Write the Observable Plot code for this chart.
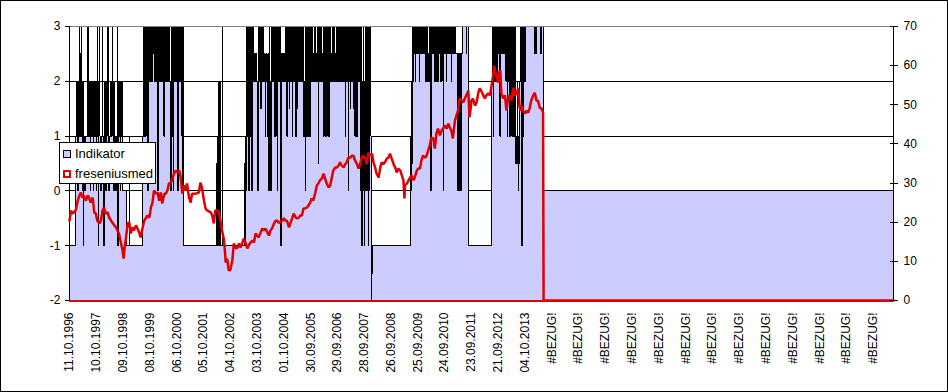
<!DOCTYPE html>
<html><head><meta charset="utf-8">
<script src="https://cdn.jsdelivr.net/npm/d3@7"></script>
<script src="https://cdn.jsdelivr.net/npm/@observablehq/plot@0.6"></script>
<style>
html,body{margin:0;padding:0;background:#fff;}
#wrap{position:relative;width:948px;height:392px;overflow:hidden;}
#wrap svg{display:block;outline:1px solid #000;outline-offset:-1px;}
.legend{position:absolute;left:59px;top:142px;width:95px;height:40px;border:1px solid #000;background:#fff;font:13px "Liberation Sans",Arial,sans-serif;color:#000;}
.legend .sw{position:absolute;left:3px;width:8px;height:8px;box-sizing:border-box;}
.legend .t{position:absolute;left:15px;line-height:15px;white-space:nowrap;}
</style>
</head><body>
<div id="wrap"></div>
<script>
// category labels (one every 52 weekly categories)
const xTickLabels = ["11.10.1996","10.10.1997","09.10.1998","08.10.1999","06.10.2000","05.10.2001","04.10.2002","03.10.2003","01.10.2004","30.09.2005","29.09.2006","28.09.2007","26.09.2008","25.09.2009","24.09.2010","23.09.2011","21.09.2012","04.10.2013","#BEZUG!","#BEZUG!","#BEZUG!","#BEZUG!","#BEZUG!","#BEZUG!","#BEZUG!","#BEZUG!","#BEZUG!","#BEZUG!","#BEZUG!","#BEZUG!","#BEZUG!"];
const categoryCount = 1600;
const leftTicks = [-2,-1,0,1,2,3];
const rightTicks = [0,10,20,30,40,50,60,70];
const seriesNames = ["Indikator","freseniusmed"];

// Indikator (left axis): [category index where value starts, value]
const indikator = [
[0,-1],[12,1],[13,2],[14,1],[15,2],[16,0],[17,2],[18,1],[19,3],[20,1],[21,2.5],[22,1],[23,3],[24,2],[25,0],[26,2],[27,-1],[28,1],[30,0],[32,1],[35,3],[36,1],[37,2],[38,1],[39,2],[40,0],[41,2],[42,1],[43,2],[44,1],[45,2],[46,0],[47,2],[48,1],[49,2],[50,1],[51,2],[52,0],[53,1],[54,3],[55,1],[56,-1],[57,2],[58,3],[59,1],[60,0],[62,1],[64,3],[65,1],[66,-1],[67,2],[68,1],[69,2],[70,0],[71,2],[72,1],[73,2],[74,3],[75,1],[76,0],[78,1],[80,2],[81,1],[82,2],[83,3],[84,1],[85,2],[86,0],[87,2],[88,1],[89,0],[91,1],[93,3],[94,-1],[95,2],[96,1],[97,2],[98,0],[99,2],[100,1],[101,2],[102,0],[110,-1],[116,1],[117,-1],
[142,1],[143,3],[144,1],[145,3],[146,2],[147,1],[148,3],[149,2],[150,1],[151,3],[152,0],[153,2],[154,3],[156,2],[157,3],[158,2],[159,3],[160,2],[161,3],[162,2.5],[163,3],[164,2],[165,3],[166,2],[168,3],[169,2],[170,3],[171,0],[172,3],[173,2],[174,3],[175,2.5],[176,3],[177,2],[178,3],[180,2],[181,3],[182,2],[183,1],[184,3],[185,2],[186,3],[187,2],[188,3],[189,2.5],[190,3],[191,2],[192,3],[193,2],[194,3],[195,2],[196,0],[197,1],[198,3],[199,1],[200,2],[201,0],[202,3],[203,2],[204,3],[205,2],[206,3],[207,2],[208,3],[209,2],[210,0],[211,2],[212,3],[213,2],[214,3],[215,2],[216,3],[217,2],[218,1],[219,0],[220,3],[221,-1],
[285,0.5],[286,-1],[288,1],[289,-1],[290,2],[291,-1],[292,2],[293,-1],[296,3],[297,-1],[340,0.5],[341,-1],
[342,1],[343,0],[344,3],[345,1],[346,2],[347,3],[348,0],[349,2],[350,3],[351,1],[352,3],[353,1.5],[354,0],[355,3],[356,2],[357,3],[358,2],[359,2.5],[360,2],[361,2.5],[363,2],[364,1.5],[365,0],[366,2.5],[367,3],[368,2],[369,3],[370,2],[371,1.5],[372,3],[373,2],[374,3],[375,2],[376,3],[377,2],[378,2.5],[379,2],[380,1],[381,2.5],[383,2],[384,1],[385,2.5],[386,2],[387,0],[388,3],[389,2],[390,1],[391,0],[392,3],[393,2],[394,3],[395,2],[396,3],[397,1],[398,3],[399,2],[400,1],[401,3],[402,2],[403,0],[404,3],[405,2],[406,3],[407,2],[408,3],[409,2],[410,-1],[412,2.5],[413,2],[414,2.5],[415,2],[416,2.5],[417,2],[418,2.5],[419,2],[420,3],[421,2],[422,1],[423,3],[424,2],[425,3],[426,1.5],[427,3],[428,2],[429,3],[430,2],[431,3],[432,1],[433,3],[434,2],[435,3],[436,2],[437,3],[438,2],[439,1],[440,3],[441,2],[442,1.5],[443,3],[444,2],[445,3],[446,2],[447,3],[448,2],[449,3],[450,2],[451,3],[452,2],
[453,3],[454,1],[455,2],[456,1],[457,0],[458,3],[459,1],[460,2],[461,1],[462,3],[463,1],[464,2],[465,1],[466,3],[467,1],[468,2],[469,3],[470,2],[471,3],[472,2],[473,2.5],[474,2],[475,3],[476,2],[477,3],[478,2],[479,2.5],[480,2],[481,3],[482,2],[483,0.5],[484,3],[485,2],[486,3],[487,2],[488,3],[489,2],[490,2.5],[491,2],[492,3],[493,1],[494,3],[495,2],[496,1],[497,3],[498,2],[499,1],[500,3],[501,2],[502,3],[503,1],[504,3],[505,2],[506,3],[507,2],[508,2.5],[509,2],[510,3],[511,2],[512,3],[513,2],[514,3],[515,2],[516,2.5],[517,2],[518,3],[519,2],[520,3],[521,2],[522,3],[523,2],[524,2.5],[525,2],[526,3],[527,2],[528,3],[530,2],[531,3],[533,2],[534,3],[535,1],[536,3],[537,2],[538,3],[539,2],[540,3],[541,0],[542,3],[543,2],[544,3],[545,1.5],[546,3],[547,2],[548,3],[549,2],[550,3],[551,1.5],[552,3],[553,2],[554,1],[555,3],[556,1],[557,2],[558,1],[559,3],[560,2],[561,3],[562,2],[563,3],[564,2],[565,0],[566,3],[567,-1],[568,2],[569,0],[570,3],[571,0],[572,-1],[573,2],[574,0],[575,3],[576,0],[577,2],[578,0],[579,3],[580,-1],[581,1],[582,0],[583,3],[584,2],[585,1],[586,-2],[587,-1.5],[588,-1],
[661,1],[662,0],[663,1],[664,2],[665,0.5],[666,3],[667,2],[668,3],[669,2.5],[670,3],[671,2],[672,3],[673,2.5],[674,3],[675,2.5],[676,3],[677,2.5],[678,3],[679,2],[680,3],[681,2.5],[682,3],[683,2.5],[684,3],[685,2.5],[686,3],[687,2.5],[688,3],[689,2.5],[690,3],[691,2],[692,3],[693,2],[694,3],[695,2],[696,2.5],[697,2],[698,3],[699,2],[700,3],[701,0],[702,1.5],[703,3],[704,2.5],[705,3],[706,2.5],[707,3],[708,2.5],[709,2],[710,3],[711,2],[712,3],[713,2.5],[714,2],[715,3],[716,2],[717,3],[718,2.5],[719,3],[720,2],[721,3],[722,2],[723,3],[724,2.5],[725,0],[726,3],[727,2.5],[728,3],[729,2.5],[730,3],[731,2],[732,3],[733,2.5],[734,3],[735,2.5],[736,3],[737,2.5],[738,3],[739,2.5],[740,3],[741,2],[742,3],[743,2.5],[744,3],[745,2.5],[746,3],[747,2.5],[748,3],[749,2.5],[753,0],[754,1.5],[755,2.5],[757,0],[758,2.5],[759,0],[760,2.5],[762,3],[770,2.5],[771,3],[774,-1],
[819,2],[820,3],[821,2],[822,1],[823,3],[824,2],[825,3],[826,2],[827,3],[828,2],[829,3],[830,2],[831,3],[832,2.5],[833,3],[834,2.5],[835,1],[836,3],[837,2.5],[838,3],[839,2.5],[840,3],[841,2.5],[842,3],[843,2.5],[844,3],[845,2.5],[846,3],[847,2],[848,3],[849,1],[850,3],[851,2],[852,3],[853,1],[854,3],[855,2],[856,1],[857,3],[858,2],[859,1],[860,3],[861,1],[862,2],[863,1],[864,3],[865,1],[866,0.5],[867,1],[868,0.5],[869,2],[870,0.5],[871,0],[872,1],[873,0.5],[874,2],[875,3],[876,2],[877,3],[878,-1],[879,3],[880,1],[881,3],[882,2],[883,3],[884,2],[885,3],[903,2.5],[904,3],[906,2.5],[907,3],[914,2.5],[915,3],[920,0],[1599,0]
];

// freseniusmed (right axis): [category index, price]
const freseniusmed = [
[0,20.4],[3,23],[6,22.2],[12,23],[16,25.5],[19,26.8],[22,27.6],[25,26.3],[28,26.8],[32,25.5],[35,26.8],[38,26.3],[41,25],[45,26.3],[48,22.5],[51,22.2],[54,20.4],[58,19.7],[61,20.4],[64,23],[67,23.8],[70,22.2],[74,22.5],[77,21.2],[83,19.9],[90,18.7],[96,17.1],[100,14.6],[103,12.8],[105,10.7],[107,13.5],[109,15.3],[113,19.7],[116,19.9],[119,17.1],[122,18.7],[125,17.9],[129,19.2],[132,18.4],[135,17.4],[138,16.1],[142,18.7],[145,20.4],[148,21],[151,21.7],[155,21.2],[158,23.8],[161,25],[164,28.1],[168,27.3],[171,27.6],[174,25.5],[177,27.6],[180,24.8],[184,27.3],[187,27.3],[190,28.1],[193,29.9],[197,30.1],[200,31.4],[203,32.4],[206,33.2],[210,32.7],[213,33.2],[216,31.2],
[219,27.3],[222,29.4],[225,28.1],[228,29.9],[232,26.3],[235,25],[238,27.3],[245,27.3],[251,27.6],[254,30.1],[257,28.9],[261,25.5],[264,23.5],[267,23],[274,22.5],[277,21.7],[280,19.7],[283,23],[287,23],[290,22.5],[293,20.4],[296,17.9],[300,15.3],[302,12],[303,9.7],[306,10.7],[309,7.7],[312,7.7],[316,10.2],[319,14.6],[322,13.5],[325,13.3],[329,14.6],[332,13.5],[335,14.6],[338,15.8],[342,14.6],[345,13.3],[348,14.1],[351,14.8],[355,15.3],[358,14.8],[361,17.1],[364,16.6],[367,16.1],[371,17.4],[374,18.4],[377,17.9],[380,18.4],[384,17.4],[387,16.6],[390,17.9],[393,18.4],[397,19.7],[400,20.4],[403,20.4],[406,19.9],[409,19.9],[413,20.4],[416,21],[419,20.4],[422,20.4],[426,18.7],[429,19.9],[432,21],[435,22.2],[439,21.2],[442,21],[445,21.2],[448,21.7],
[451,21.7],[454,23.5],[457,23.5],[461,23.8],[464,24.3],[467,25],[470,26.1],[473,25.5],[477,27.6],[480,29.4],[483,29.9],[486,30.7],[490,31.2],[493,32.4],[496,31.2],[499,29.9],[503,28.9],[506,29.4],[509,31.4],[512,33.2],[516,34],[519,34],[522,34.5],[525,35.3],[528,34.5],[532,34],[535,34.8],[538,35.3],[541,36.5],[545,36.5],[548,37],[551,37],[554,35.8],[558,34.8],[561,33.7],[564,34.8],[567,36.5],[570,37],[574,36.3],[577,34.8],[580,37.8],[583,37],[587,37.5],[590,35.3],[593,34],[596,32.4],[600,31.4],[603,34],[606,35.3],[609,34.8],[612,35.3],[616,36.3],[619,36.5],[622,37.5],[625,36.3],[629,34.8],[632,34],[635,32.7],[638,33.7],[642,33.2],[645,31.9],[648,30.7],[650,26.1],[651,29.4],[655,29.9],[658,30.7],[661,31.4],[664,31.9],[668,30.7],[671,31.9],[674,33.2],[677,33.7],
[680,33.7],[683,35.8],[686,37],[690,36.5],[693,37],[696,38.3],[699,39.6],[702,41.6],[706,41.4],[709,38.8],[712,42.7],[715,43.9],[719,42.2],[722,43.4],[725,43.9],[728,44.7],[732,43.9],[735,45.2],[738,44.2],[741,43.4],[744,41.4],[748,46],[751,47.3],[754,48.5],[757,51.6],[761,51.1],[764,50.6],[767,51.6],[770,52.4],[774,53.6],[776,46.8],[778,48.5],[780,51.1],[783,51.6],[787,49.8],[790,50.6],[793,52.9],[796,54.2],[799,53.6],[803,52.4],[806,51.6],[809,52.4],[812,52.9],[816,52.4],[819,54.9],[822,57.5],[824,60],[827,58],[829,56.7],[832,55.7],[834,58.3],[836,58.8],[838,52.9],[842,51.6],[845,52.4],[848,48.5],[851,51.6],[854,52.4],[858,51.1],[861,54.4],[864,52.4],[867,52.9],[871,54.2],[873,49.8],[875,48.5],[877,49.8],[880,48.5],[884,47.8],[887,48.5],[890,48],[893,49.1],[896,51.1],[900,52.4],[903,53.1],[906,51.1],[909,51.1],[913,49.1],[916,49.1],[919,48],[920,0],[1599,0]
];

const FILL = "#ccccff", RED = "#e00000";
const toLeft = v => -2 + v * 5 / 70;   // right-axis value -> left-axis units
const indData = indikator.map(([w, v]) => ({w, v}));
const fresData = freseniusmed.map(([w, p]) => ({w, y: toLeft(p)}));
const tickCats = xTickLabels.map((_, i) => i * 52);

const chart = Plot.plot({
  width: 948, height: 392,
  marginLeft: 69, marginRight: 55, marginTop: 26, marginBottom: 92,
  style: {fontFamily: "'Liberation Sans', Arial, sans-serif", fontSize: "12px", color: "#000", background: "transparent", overflow: "visible"},
  x: {type: "linear", domain: [0, categoryCount - 1], label: null},
  y: {domain: [-2, 3], label: null},
  marks: [
    Plot.ruleY([-1, 0, 1, 2], {stroke: "#000", strokeWidth: 1, shapeRendering: "crispEdges"}),
    Plot.areaY(indData, {x: "w", y1: -2, y2: "v", curve: "step-after", fill: FILL, shapeRendering: "crispEdges"}),
    Plot.line(indData, {x: "w", y: "v", curve: "step-after", stroke: "#000", strokeWidth: 1, shapeRendering: "crispEdges"}),
    Plot.ruleY([3], {stroke: "#808080", strokeWidth: 1, shapeRendering: "crispEdges"}),
    Plot.ruleX([0, categoryCount - 1], {stroke: "#000", strokeWidth: 1, shapeRendering: "crispEdges"}),
    Plot.ruleY([-2], {stroke: RED, strokeWidth: 2, shapeRendering: "crispEdges"}),
    Plot.line(fresData, {x: "w", y: "y", stroke: RED, strokeWidth: 2.5, strokeLinejoin: "miter"}),
    Plot.axisY(leftTicks, {anchor: "left", tickSize: 4, tickPadding: 5, tickFormat: d => String(d), label: null, shapeRendering: "crispEdges"}),
    Plot.axisY(rightTicks.map(toLeft), {anchor: "right", tickSize: 8, dx: -4, tickPadding: 6, tickFormat: d => String(Math.round((d + 2) * 14)), label: null, shapeRendering: "crispEdges"}),
    Plot.axisX(tickCats, {anchor: "bottom", tickSize: 0, tickPadding: 12, tickRotate: -90, tickFormat: d => xTickLabels[Math.round(d / 52)], label: null})
  ]
});
const wrap = document.getElementById("wrap");
wrap.append(chart);

const legend = document.createElement("div");
legend.className = "legend";
legend.innerHTML =
  `<div class="sw" style="top:7px;background:${FILL};border:1px solid #000"></div><div class="t" style="top:3px">${seriesNames[0]}</div>` +
  `<div class="sw" style="top:27px;background:#fff;border:2px solid ${RED}"></div><div class="t" style="top:23px">${seriesNames[1]}</div>`;
wrap.append(legend);
</script>
</body></html>
